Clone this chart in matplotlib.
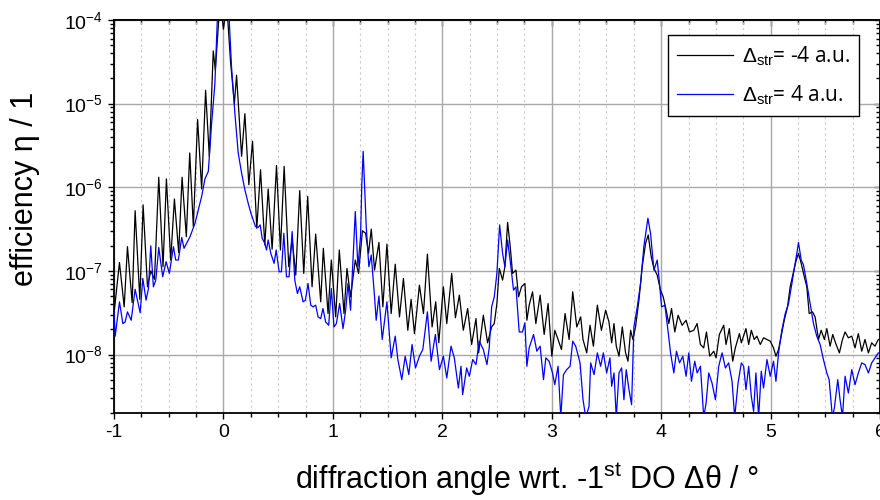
import matplotlib
matplotlib.use("Agg")
import matplotlib.pyplot as plt
import numpy as np
from matplotlib.ticker import MultipleLocator, LogLocator, NullFormatter

plt.rcParams['font.family'] = ['Liberation Sans', 'DejaVu Sans']
plt.rcParams['mathtext.fontset'] = 'custom'
plt.rcParams['mathtext.rm'] = 'Liberation Sans'
plt.rcParams['mathtext.it'] = 'Liberation Sans:italic'
plt.rcParams['axes.unicode_minus'] = False

# diffraction angle (deg) and log10(efficiency)
black_x = [
    -1.000, -0.950, -0.907, -0.877, -0.834, -0.807, -0.764, -0.734, -0.694, -0.664,
    -0.630, -0.591, -0.552, -0.521, -0.482, -0.448, -0.409, -0.378, -0.339, -0.308,
    -0.275, -0.236, -0.199, -0.163, -0.129, -0.093, -0.074, -0.030, 0.000, 0.030,
    0.065, 0.100, 0.120, 0.166, 0.196, 0.232, 0.266, 0.305, 0.339, 0.378,
    0.409, 0.445, 0.485, 0.521, 0.555, 0.597, 0.628, 0.661, 0.697, 0.734,
    0.770, 0.810, 0.843, 0.889, 0.913, 0.956, 0.986, 1.026, 1.059, 1.102,
    1.129, 1.162, 1.205, 1.235, 1.270, 1.299, 1.326, 1.351, 1.381, 1.421,
    1.457, 1.494, 1.533, 1.570, 1.609, 1.645, 1.685, 1.715, 1.746, 1.791,
    1.828, 1.864, 1.907, 1.940, 1.968, 2.010, 2.041, 2.086, 2.120, 2.156,
    2.192, 2.232, 2.268, 2.308, 2.332, 2.375, 2.414, 2.451, 2.475, 2.499,
    2.521, 2.551, 2.572, 2.597, 2.621, 2.642, 2.673, 2.697, 2.724, 2.755,
    2.773, 2.794, 2.825, 2.855, 2.894, 2.931, 2.967, 3.001, 3.028, 3.058,
    3.089, 3.122, 3.159, 3.192, 3.229, 3.265, 3.286, 3.320, 3.350, 3.381,
    3.417, 3.454, 3.493, 3.523, 3.548, 3.569, 3.590, 3.615, 3.645, 3.675,
    3.697, 3.721, 3.742, 3.766, 3.797, 3.827, 3.858, 3.882, 3.909, 3.934,
    3.964, 3.994, 4.019, 4.046, 4.070, 4.095, 4.125, 4.155, 4.192, 4.228,
    4.259, 4.298, 4.329, 4.359, 4.389, 4.414, 4.444, 4.481, 4.502, 4.532,
    4.572, 4.593, 4.623, 4.654, 4.678, 4.715, 4.733, 4.775, 4.800, 4.824,
    4.851, 4.875, 4.906, 4.936, 4.967, 4.997, 5.027, 5.049, 5.073, 5.097,
    5.125, 5.155, 5.179, 5.210, 5.231, 5.255, 5.280, 5.301, 5.331, 5.353,
    5.383, 5.407, 5.438, 5.462, 5.492, 5.514, 5.544, 5.568, 5.599, 5.629,
    5.657, 5.681, 5.711, 5.742, 5.772, 5.802, 5.833, 5.863, 5.894, 5.924,
    5.954, 5.985,
]
black_log = [
    -7.51, -6.90, -7.43, -6.71, -7.38, -6.28, -7.34, -6.21, -7.19, -7.00,
    -7.10, -5.88, -6.95, -5.90, -6.87, -6.14, -6.78, -5.88, -6.59, -5.59,
    -6.47, -5.19, -6.02, -4.84, -5.63, -4.37, -4.60, -3.75, -4.11, -3.80,
    -4.50, -5.00, -4.66, -5.63, -5.12, -5.97, -5.45, -6.49, -5.79, -6.69,
    -6.02, -6.74, -5.74, -6.75, -5.75, -6.95, -6.62, -7.05, -6.04, -7.03,
    -6.11, -7.19, -6.56, -7.37, -6.73, -7.51, -6.87, -7.55, -6.75, -7.51,
    -6.97, -7.31, -6.87, -7.03, -6.52, -6.55, -6.79, -6.50, -6.99, -6.66,
    -7.43, -6.68, -7.51, -6.92, -7.55, -7.09, -7.71, -7.34, -7.75, -7.17,
    -7.51, -6.80, -7.67, -7.37, -7.86, -7.19, -7.63, -7.03, -7.56, -7.29,
    -7.71, -7.45, -7.88, -7.57, -7.98, -7.53, -7.86, -7.67, -7.63, -7.39,
    -6.97, -7.11, -6.95, -6.42, -6.71, -7.03, -6.99, -7.31, -7.19, -7.15,
    -7.59, -7.41, -7.25, -7.63, -7.29, -7.76, -7.39, -8.02, -7.71, -7.82,
    -7.94, -7.51, -7.82, -7.25, -7.67, -7.55, -7.82, -7.98, -7.65, -7.90,
    -7.41, -7.71, -7.47, -7.61, -7.86, -7.63, -7.90, -8.02, -7.67, -7.98,
    -8.08, -7.71, -7.82, -7.67, -7.35, -6.95, -6.67, -6.57, -6.83, -6.97,
    -7.05, -7.23, -7.31, -7.47, -7.63, -7.45, -7.73, -7.53, -7.65, -7.59,
    -7.73, -7.71, -7.63, -7.88, -7.92, -7.73, -8.02, -7.96, -8.04, -7.76,
    -7.65, -7.88, -7.69, -8.08, -7.92, -7.75, -7.86, -7.69, -7.88, -7.71,
    -7.82, -7.78, -7.88, -7.80, -7.82, -7.84, -7.92, -8.02, -7.94, -7.78,
    -7.59, -7.43, -7.19, -7.01, -6.89, -6.79, -6.91, -7.03, -7.19, -7.51,
    -7.49, -7.55, -7.82, -7.71, -7.82, -7.69, -7.90, -7.76, -7.88, -7.98,
    -7.82, -7.73, -7.80, -7.78, -7.92, -7.75, -7.96, -7.82, -7.98, -7.86,
    -7.90, -7.82,
]

blue_x = [
    -1.000, -0.989, -0.950, -0.919, -0.898, -0.877, -0.843, -0.807, -0.786, -0.761,
    -0.737, -0.707, -0.685, -0.664, -0.640, -0.618, -0.591, -0.555, -0.524, -0.494,
    -0.457, -0.436, -0.412, -0.381, -0.360, -0.305, -0.260, -0.229, -0.199, -0.169,
    -0.138, -0.108, -0.078, -0.056, -0.030, 0.000, 0.030, 0.053, 0.074, 0.105,
    0.135, 0.166, 0.196, 0.226, 0.251, 0.272, 0.293, 0.318, 0.336, 0.354,
    0.378, 0.394, 0.409, 0.433, 0.463, 0.482, 0.509, 0.530, 0.552, 0.576,
    0.600, 0.628, 0.652, 0.676, 0.697, 0.728, 0.749, 0.773, 0.798, 0.819,
    0.843, 0.865, 0.889, 0.910, 0.934, 0.962, 0.986, 1.010, 1.032, 1.062,
    1.093, 1.117, 1.138, 1.162, 1.184, 1.205, 1.229, 1.253, 1.265, 1.277,
    1.305, 1.329, 1.351, 1.381, 1.396, 1.421, 1.451, 1.494, 1.533, 1.570,
    1.594, 1.630, 1.661, 1.694, 1.724, 1.755, 1.791, 1.822, 1.864, 1.898,
    1.937, 1.974, 2.010, 2.041, 2.080, 2.110, 2.147, 2.171, 2.186, 2.223,
    2.247, 2.278, 2.308, 2.338, 2.375, 2.408, 2.429, 2.451, 2.475, 2.499,
    2.524, 2.551, 2.572, 2.597, 2.627, 2.651, 2.673, 2.703, 2.733, 2.755,
    2.773, 2.794, 2.834, 2.864, 2.894, 2.925, 2.946, 2.976, 3.007, 3.028,
    3.058, 3.083, 3.107, 3.137, 3.168, 3.192, 3.219, 3.259, 3.286, 3.311,
    3.341, 3.356, 3.387, 3.417, 3.447, 3.472, 3.502, 3.532, 3.548, 3.569,
    3.590, 3.615, 3.639, 3.660, 3.681, 3.706, 3.730, 3.751, 3.782, 3.812,
    3.842, 3.879, 3.903, 3.934, 3.964, 3.985, 4.004, 4.034, 4.064, 4.086,
    4.116, 4.140, 4.168, 4.198, 4.228, 4.253, 4.277, 4.307, 4.329, 4.359,
    4.389, 4.411, 4.435, 4.465, 4.496, 4.526, 4.557, 4.587, 4.617, 4.648,
    4.672, 4.703, 4.733, 4.754, 4.775, 4.800, 4.824, 4.845, 4.866, 4.891,
    4.915, 4.936, 4.967, 4.997, 5.027, 5.049, 5.073, 5.103, 5.134, 5.164,
    5.195, 5.219, 5.240, 5.255, 5.280, 5.301, 5.331, 5.362, 5.392, 5.422,
    5.453, 5.483, 5.514, 5.535, 5.565, 5.583, 5.614, 5.635, 5.657, 5.681,
    5.711, 5.742, 5.772, 5.802, 5.833, 5.863, 5.894, 5.924, 5.954, 5.985,
]
blue_log = [
    -7.49, -7.78, -7.37, -7.63, -7.61, -7.49, -7.59, -7.22, -7.35, -7.50,
    -7.09, -7.35, -7.21, -6.70, -7.19, -7.11, -6.72, -7.07, -6.89, -7.03,
    -6.71, -6.87, -6.87, -6.60, -6.73, -6.59, -6.43, -6.27, -6.11, -5.90,
    -5.81, -5.24, -4.76, -4.00, -3.60, -3.40, -3.60, -4.00, -4.56, -5.12,
    -5.59, -5.83, -6.03, -6.19, -6.31, -6.39, -6.47, -6.48, -6.45, -6.61,
    -6.67, -6.75, -6.63, -6.79, -6.91, -6.75, -7.01, -7.01, -6.55, -7.07,
    -7.07, -6.53, -7.11, -7.27, -7.19, -7.37, -7.35, -7.15, -7.41, -7.43,
    -7.41, -7.55, -7.57, -7.45, -7.61, -7.65, -7.21, -7.67, -7.63, -7.39,
    -7.69, -7.47, -7.15, -7.47, -6.87, -6.29, -6.95, -6.59, -5.95, -5.57,
    -6.47, -6.95, -6.81, -7.31, -7.59, -7.30, -7.82, -7.37, -8.04, -7.78,
    -8.06, -8.30, -8.02, -8.24, -7.88, -8.16, -8.02, -7.94, -7.49, -8.08,
    -7.76, -8.18, -8.02, -8.28, -7.90, -8.04, -8.40, -8.14, -8.48, -8.16,
    -8.26, -8.06, -8.12, -7.84, -7.94, -8.12, -7.92, -7.43, -7.31, -7.03,
    -6.45, -6.79, -6.95, -6.63, -6.95, -7.23, -7.19, -7.73, -7.73, -7.62,
    -8.14, -7.92, -7.76, -7.96, -7.90, -8.30, -8.04, -8.08, -8.22, -8.36,
    -8.14, -8.75, -8.24, -8.18, -8.14, -7.84, -7.90, -8.10, -8.54, -8.75,
    -8.62, -8.10, -8.24, -7.98, -8.14, -7.98, -8.22, -8.04, -8.38, -8.22,
    -8.75, -8.22, -8.16, -8.54, -8.18, -8.42, -8.60, -7.67, -7.43, -7.15,
    -6.71, -6.37, -6.55, -6.99, -6.87, -7.15, -7.43, -7.41, -7.73, -7.98,
    -8.22, -7.96, -8.10, -8.02, -8.26, -7.98, -8.32, -8.08, -8.22, -8.14,
    -8.75, -8.58, -8.22, -8.34, -8.54, -8.14, -7.98, -8.16, -8.10, -8.32,
    -8.75, -8.34, -8.10, -8.14, -8.42, -8.14, -8.50, -8.68, -8.22, -8.75,
    -8.20, -8.40, -8.06, -8.26, -8.08, -8.32, -7.98, -7.71, -7.51, -7.39,
    -7.15, -6.95, -6.79, -6.66, -6.87, -6.93, -7.15, -7.39, -7.63, -7.78,
    -7.88, -8.06, -8.22, -8.30, -8.75, -8.64, -8.30, -8.54, -8.75, -8.26,
    -8.46, -8.18, -8.36, -8.22, -8.10, -8.12, -8.22, -8.10, -8.04, -7.98,
]

labels = [r'$\Delta_{\mathrm{str}}$= -4 a.u.', r'$\Delta_{\mathrm{str}}$= 4 a.u.']

fig = plt.figure(figsize=(8.8, 5), dpi=100)
ax = fig.add_axes([114 / 880, 87 / 500, 766 / 880, 393 / 500])

ax.plot(black_x, 10.0 ** np.array(black_log), color='black', lw=0.9, label=labels[0], zorder=3)
ax.plot(blue_x, 10.0 ** np.array(blue_log), color='#0000ff', lw=0.9, label=labels[1], zorder=3)

ax.set_yscale('log')
ax.set_xlim(-1, 6)
ax.set_ylim(2e-9, 1e-4)

ax.xaxis.set_major_locator(MultipleLocator(1))
ax.xaxis.set_minor_locator(MultipleLocator(0.25))
ax.yaxis.set_major_locator(LogLocator(base=10))
ax.yaxis.set_minor_locator(LogLocator(base=10, subs=np.arange(2, 10)))
ax.yaxis.set_minor_formatter(NullFormatter())

ax.grid(which='major', color='#a8a8a8', lw=1.0, zorder=0)
ax.xaxis.grid(which='minor', color='#c8c8c8', lw=0.8, ls=(0, (2, 3)), zorder=0)
ax.yaxis.grid(which='minor', visible=False)

ax.tick_params(which='both', direction='out', top=False, right=False,
               labelsize=14, width=1.0, color='black')
ax.tick_params(which='major', length=4.5)
ax.tick_params(which='minor', length=2.8)
for sp in ax.spines.values():
    sp.set_linewidth(1.3)

# mirrored inward ticks on top and right
top = ax.secondary_xaxis('top')
top.xaxis.set_major_locator(MultipleLocator(1))
top.xaxis.set_minor_locator(MultipleLocator(0.25))
top.tick_params(which='both', direction='in', labeltop=False, width=1.0)
top.tick_params(which='major', length=4.5)
top.tick_params(which='minor', length=2.8)
top.spines['top'].set_linewidth(1.3)

right = ax.secondary_yaxis('right')
right.yaxis.set_major_locator(LogLocator(base=10))
right.yaxis.set_minor_locator(LogLocator(base=10, subs=np.arange(2, 10)))
right.yaxis.set_major_formatter(NullFormatter())
right.yaxis.set_minor_formatter(NullFormatter())
right.tick_params(which='both', direction='in', width=1.0)
right.tick_params(which='major', length=4.5)
right.tick_params(which='minor', length=2.8)

ax.set_xlabel('diffraction angle wrt. -1$^{\\mathrm{st}}$ DO Δθ / °', fontsize=22)
ax.set_ylabel('efficiency η / 1', fontsize=22)
ax.xaxis.set_label_coords(0.539, -0.12)
ax.yaxis.set_label_coords(-0.097, 0.57)

leg = ax.legend(loc='upper right', bbox_to_anchor=(0.9726, 0.9618), borderaxespad=0,
                fancybox=False, framealpha=1, edgecolor='black',
                handlelength=2.7, handletextpad=0.4, borderpad=0.45, labelspacing=0.75,
                prop={'family': ['Open Sans', 'DejaVu Sans'], 'size': 15})
leg.get_frame().set_linewidth(1.0)

fig.savefig('out.png', dpi=100)
